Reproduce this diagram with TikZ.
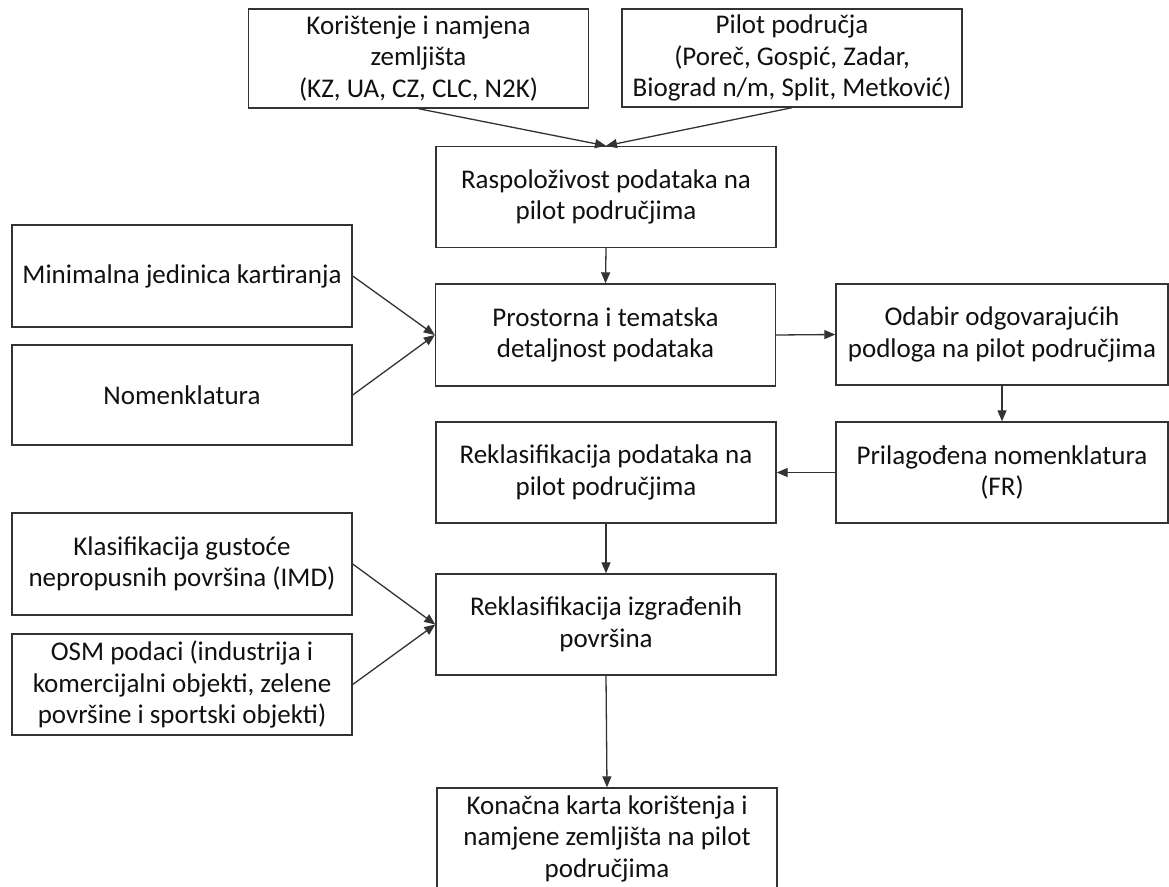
\documentclass[tikz,border=0pt]{standalone}
\usepackage{fontspec}
\setmainfont{Carlito}
\usetikzlibrary{arrows.meta}
\definecolor{edge}{HTML}{333333}
\definecolor{ink}{HTML}{111111}
\tikzset{
  box/.style={draw=edge, line width=1.4pt, fill=white, rectangle,
    minimum width=340pt, minimum height=101pt, inner sep=0pt,
    align=center, text=ink, font=\fontsize{27}{31.5}\selectfont},
  narrowbox/.style={box, minimum width=332pt},
  arr/.style={draw=edge, line width=1.3pt, -{Triangle[length=11pt,width=9pt]}}
}
\begin{document}
\begin{tikzpicture}[x=1pt,y=-1pt]
\clip (0,0) rectangle (1169,886);
\fill[white] (0,0) rectangle (1169,886);

% sources at the top
\node[box, minimum height=99pt] (kz) at (418.5,58.5) {Korištenje i namjena\\zemljišta\\(KZ, UA, CZ, CLC, N2K)};
\node[box, minimum height=98pt] (pilot) at (792,58) {Pilot područja\\(Poreč, Gospić, Zadar,\\Biograd n/m, Split, Metković)};

% middle column
\node[box] (rasp) at (606,197) {Raspoloživost podataka na\\pilot područjima};
\node[box, minimum height=102pt] (prost) at (605.5,335) {Prostorna i tematska\\detaljnost podataka};
\node[box] (rekl) at (606,472.5) {Reklasifikacija podataka na\\pilot područjima};
\node[box] (izgr) at (606,624.5) {Reklasifikacija izgrađenih\\površina};
\node[box] (kon) at (607,838.5) {Konačna karta korištenja i\\namjene zemljišta na pilot\\područjima};

% left column
\node[box, minimum height=102pt] (mjk) at (182,276) {Minimalna jedinica kartiranja};
\node[box, minimum height=100pt] (nom) at (182,395) {Nomenklatura};
\node[box, minimum height=102pt] (imd) at (182,564) {Klasifikacija gustoće\\nepropusnih površina (IMD)};
\node[box] (osm) at (182,684.5) {OSM podaci (industrija i\\komercijalni objekti, zelene\\površine i sportski objekti)};

% right column
\node[narrowbox] (odab) at (1002,334.5) {Odabir odgovarajućih\\podloga na pilot područjima};
\node[narrowbox] (fr) at (1002,472.5) {Prilagođena nomenklatura\\(FR)};

% connectors
\draw[arr] (kz.south) -- (rasp.north);
\draw[arr] (pilot.south) -- (rasp.north);
\draw[arr] (rasp.south) -- (prost.north);
\draw[arr] (mjk.east) -- (prost.west);
\draw[arr] (nom.east) -- (prost.west);
\draw[arr] (prost.east) -- (odab.west);
\draw[arr] (odab.south) -- (fr.north);
\draw[arr] (fr.west) -- (rekl.east);
\draw[arr] (rekl.south) -- (izgr.north);
\draw[arr] (imd.east) -- (izgr.west);
\draw[arr] (osm.east) -- (izgr.west);
\draw[arr] (izgr.south) -- (kon.north);
\end{tikzpicture}
\end{document}
